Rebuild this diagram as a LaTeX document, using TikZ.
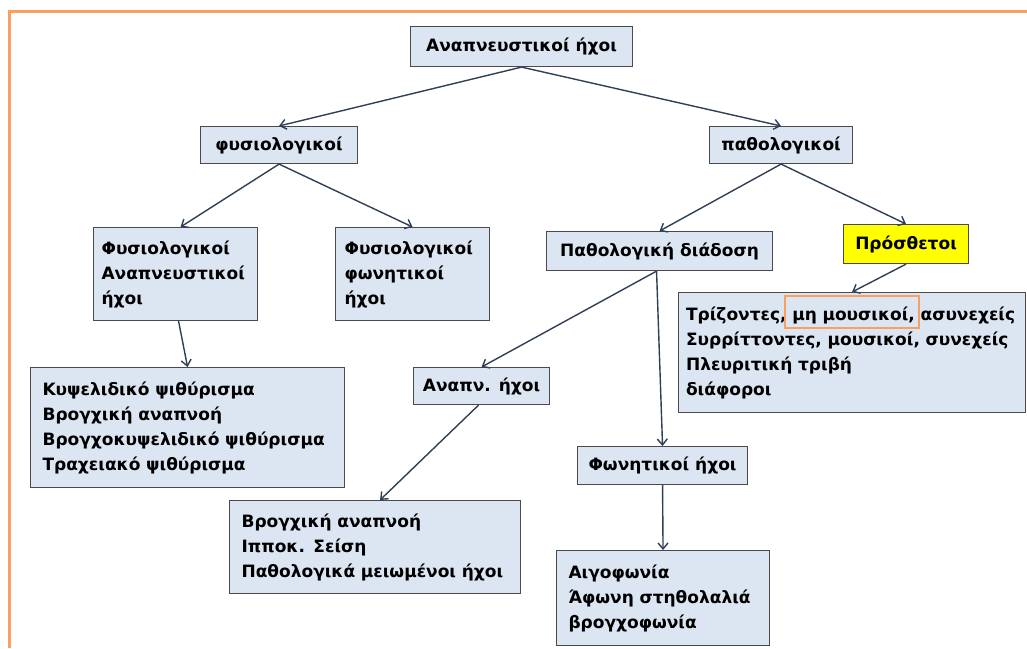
\documentclass[tikz,border=0pt]{standalone}
\usepackage{fontspec}
\setmainfont{DejaVu Sans}
\usetikzlibrary{arrows.meta,calc}
\definecolor{boxfill}{HTML}{DCE6F2}
\definecolor{boxline}{HTML}{4A4A4A}
\definecolor{arrowc}{HTML}{2F3F55}
\definecolor{frameor}{HTML}{F9A060}
\definecolor{hiyellow}{HTML}{FFFF00}
\hyphenpenalty=10000
\begin{document}
\begin{tikzpicture}[x=1pt,y=-1pt,
  box/.style={draw=boxline, fill=boxfill, line width=1.1pt, anchor=north west, inner sep=0pt,
    font=\fontsize{17}{25}\selectfont\bfseries},
  multi/.style={box, align=left},
  conn/.style={draw=arrowc, line width=1.4pt, -{Straight Barb[length=6pt,width=10pt,line width=1.4pt]}},
  hilite/.style={draw=frameor, line width=1.4pt}]
\useasboundingbox (0,0) rectangle (1027,648);
\draw[frameor, line width=3pt] (9,648) -- (9,11) -- (1027,11);

\node[box, minimum width=222pt, minimum height=40pt] (root) at (410,26) {Αναπνευστικοί ήχοι};
\node[box, minimum width=157pt, minimum height=37pt] (fys) at (200,126) {φυσιολογικοί};
\node[box, minimum width=143pt, minimum height=37pt] (path) at (709,126) {παθολογικοί};

\node[multi, minimum width=164pt, minimum height=93pt, text width=148pt] (fa) at (93,227)
  {Φυσιολογικοί\\Αναπνευστικοί\\ήχοι};
\node[multi, minimum width=154pt, minimum height=93pt, text width=136pt] (ff) at (335,227)
  {Φυσιολογικοί\\φωνητικοί\\ήχοι};
\node[box, minimum width=226pt, minimum height=39pt] (pd) at (546,231) {Παθολογική διάδοση};
\node[box, fill=hiyellow, minimum width=125pt, minimum height=39pt] (pro) at (843,224) {Πρόσθετοι};
\node[multi, minimum width=347pt, minimum height=120pt, text width=332pt] (big) at (678,292)
  {Τρίζοντες, μη μουσικοί, ασυνεχείς\\Συρρίττοντες, μουσικοί, συνεχείς\\Πλευριτική τριβή\\διάφοροι};
\draw[hilite] (785,296) rectangle (919,328);

\node[multi, minimum width=314pt, minimum height=120pt, text width=290pt] (ky) at (30,367)
  {Κυψελιδικό ψιθύρισμα\\Βρογχική αναπνοή\\Βρογχοκυψελιδικό ψιθύρισμα\\Τραχειακό ψιθύρισμα};
\node[box, minimum width=136pt, minimum height=37pt] (an) at (413,367) {Αναπν. ήχοι};
\node[box, minimum width=170pt, minimum height=38pt] (fo) at (577,446) {Φωνητικοί ήχοι};
\node[multi, minimum width=291pt, minimum height=93pt, text width=267pt] (br) at (229,500)
  {Βρογχική αναπνοή\\Ιπποκ. Σείση\\Παθολογικά μειωμένοι ήχοι};
\node[multi, minimum width=213pt, minimum height=95pt, text width=189pt] (ai) at (556,550)
  {Αιγοφωνία\\Άφωνη στηθολαλιά\\βρογχοφωνία};

\draw[conn] (root.south) -- (fys.north);
\draw[conn] (root.south) -- (path.north);
\draw[conn] (fys.south) -- ([xshift=5pt]fa.north);
\draw[conn] (fys.south) -- (ff.north);
\draw[conn] ([xshift=3pt]fa.south) -- (ky.north);
\draw[conn] (path.south) -- (pd.north);
\draw[conn] (path.south) -- (pro.north);
\draw[conn] (pro.south) -- (big.north);
\draw[conn] ([xshift=-3pt]pd.south) -- (an.north);
\draw[conn] ([xshift=-3pt]pd.south) -- (fo.north);
\draw[conn] ([xshift=-3pt]an.south) -- ([xshift=5pt]br.north);
\draw[conn] (fo.south) -- (ai.north);
\end{tikzpicture}
\end{document}
